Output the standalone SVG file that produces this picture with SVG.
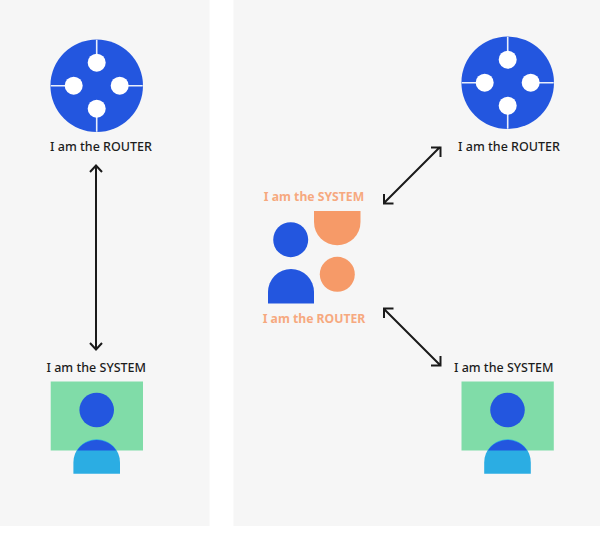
<svg xmlns="http://www.w3.org/2000/svg" width="600" height="552" viewBox="0 0 600 552">
<style>
.panel{fill:#f6f6f6}
.blue{fill:#2356df}
.hole{fill:#fff}
.slot{stroke:#e9eefb;stroke-width:1.6;fill:none}
.green{fill:#80dca8}
.cyan{fill:#2bade3}
.orange{fill:#f69a68}
.label{font-family:"Noto Sans","Liberation Sans",sans-serif;font-size:12.5px;font-weight:500;text-anchor:middle;fill:#1c1c1c}
.olabel{font-family:"Noto Sans","Liberation Sans",sans-serif;font-size:12.2px;font-weight:700;text-anchor:middle;fill:#f6a97f}
.arrow{stroke:#1a1a1a;stroke-width:2;fill:none}
</style>
<defs>
<g id="router-icon">
<circle class="blue" cx="0" cy="0" r="46.3"/>
<path class="slot" d="M0-46V-23M0 46V23M-46 0H-23M46 0H23"/>
<circle class="hole" cx="0" cy="-23" r="9"/>
<circle class="hole" cx="0" cy="23" r="9"/>
<circle class="hole" cx="-23" cy="0" r="9"/>
<circle class="hole" cx="23" cy="0" r="9"/>
</g>
<g id="system-icon">
<rect class="green" x="-46" y="-28.5" width="92.300" height="69"/>
<circle class="blue" cx="0" cy="0" r="17.300"/>
<path class="cyan" d="M-23.300 63.700V52.500A23.300 23.300 0 0 1 23.300 52.500V63.700Z"/>
<path class="blue" d="M-19.500 40.500A23.300 23.300 0 0 1 19.500 40.500Z"/>
</g>
</defs>
<rect class="panel" x="0" y="0" width="209.500" height="526"/>
<rect class="panel" x="233.500" y="0" width="366.500" height="526"/>
<g id="connectors">
<path class="arrow" d="M96 166V349M90 172L96 165.500L102 172M90 343L96 349.500L102 343"/>
<path class="arrow" d="M384 203L440 147M431 147.500H440.500V157M384 194V203.500H393.500"/>
<path class="arrow" d="M384 309L440 365M384 318V308.500H393.500M431 365.500H440.500V356"/>
</g>
<g id="router-left">
<use href="#router-icon" x="96.700" y="85.700"/>
<text class="label" x="101" y="151">I am the ROUTER</text>
</g>
<g id="system-left">
<text class="label" x="96.300" y="372">I am the SYSTEM</text>
<use href="#system-icon" x="96.700" y="410"/>
</g>
<g id="router-right">
<use href="#router-icon" x="507.700" y="82.700"/>
<text class="label" x="509" y="151">I am the ROUTER</text>
</g>
<g id="system-right">
<text class="label" x="503.700" y="372">I am the SYSTEM</text>
<use href="#system-icon" x="507.500" y="410"/>
</g>
<g id="center">
<text class="olabel" x="314" y="201">I am the SYSTEM</text>
<circle class="blue" cx="290.700" cy="239.700" r="17.500"/>
<path class="blue" d="M268 303.500V292A23 23 0 0 1 314 292V303.500Z"/>
<path class="orange" d="M314 211H360.500V222A23.250 23.250 0 0 1 314 222Z"/>
<circle class="orange" cx="337.300" cy="274.300" r="17.500"/>
<text class="olabel" x="314" y="323">I am the ROUTER</text>
</g>
</svg>
